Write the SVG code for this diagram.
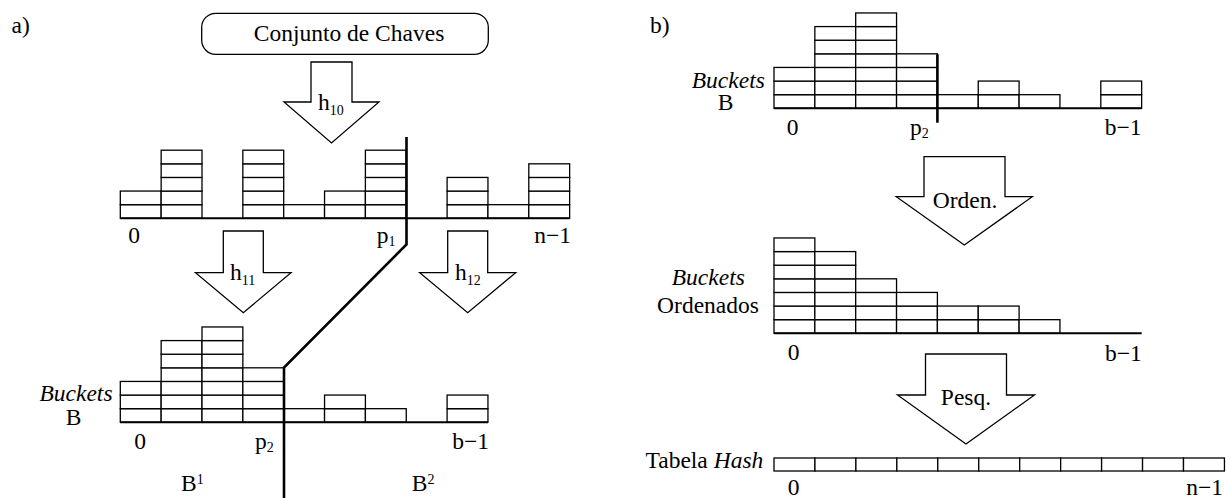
<svg xmlns="http://www.w3.org/2000/svg" width="1226" height="498" viewBox="0 0 1226 498" font-family="'Liberation Serif', 'Times New Roman', serif">
<style>
text{font-family:"Liberation Serif","Times New Roman",serif;font-size:23.5px;fill:#000}
.i{font-style:italic}
.s{font-size:14px}
.m{text-anchor:middle}
.e{text-anchor:end}
.c{fill:#fff;stroke:#000;stroke-width:1.3}
.base{stroke:#000;stroke-width:2;fill:none}
.arr{fill:#fff;stroke:#000;stroke-width:1.3;stroke-linejoin:miter}
.div{stroke:#000;stroke-width:2.6;fill:none;stroke-linejoin:miter}
.box{fill:#fff;stroke:#000;stroke-width:1.3}
</style>
<defs>
<g id="s1"><rect class="c" x="0" y="-13.62" width="40.85" height="13.62"/></g>
<g id="s2"><use href="#s1"/><rect class="c" x="0" y="-27.24" width="40.85" height="13.62"/></g>
<g id="s3"><use href="#s2"/><rect class="c" x="0" y="-40.86" width="40.85" height="13.62"/></g>
<g id="s4"><use href="#s3"/><rect class="c" x="0" y="-54.48" width="40.85" height="13.62"/></g>
<g id="s5"><use href="#s4"/><rect class="c" x="0" y="-68.1" width="40.85" height="13.62"/></g>
<g id="s6"><use href="#s5"/><rect class="c" x="0" y="-81.72" width="40.85" height="13.62"/></g>
<g id="s7"><use href="#s6"/><rect class="c" x="0" y="-95.34" width="40.85" height="13.62"/></g>
</defs>

<text x="11.5" y="33">a)</text>
<text x="650" y="33">b)</text>

<g id="conjunto">
<rect class="box" x="201.7" y="13.3" width="286.6" height="41" rx="14" ry="14"/>
<text class="m" x="349" y="40.7">Conjunto de Chaves</text>
</g>

<g id="bucketsN">
<use href="#s2" x="120.3" y="218.3"/>
<use href="#s5" x="161.15" y="218.3"/>
<use href="#s5" x="242.85" y="218.3"/>
<use href="#s1" x="283.7" y="218.3"/>
<use href="#s2" x="324.55" y="218.3"/>
<use href="#s5" x="365.4" y="218.3"/>
<use href="#s3" x="447.1" y="218.3"/>
<use href="#s1" x="487.95" y="218.3"/>
<use href="#s4" x="528.8" y="218.3"/>
<path class="base" d="M120.3 218.3H569.65"/>
<text x="128.3" y="243">0</text>
<text x="376.7" y="243">p<tspan class="s" dy="3">1</tspan></text>
<text class="e" x="571" y="243">n−1</text>
</g>

<g id="bucketsB-a">
<use href="#s3" x="120.3" y="422.3"/>
<use href="#s6" x="161.15" y="422.3"/>
<use href="#s7" x="202" y="422.3"/>
<use href="#s4" x="242.85" y="422.3"/>
<use href="#s1" x="283.7" y="422.3"/>
<use href="#s2" x="324.55" y="422.3"/>
<use href="#s1" x="365.4" y="422.3"/>
<use href="#s2" x="447.1" y="422.3"/>
<path class="base" d="M120.3 422.3H487.95"/>
<text class="i m" x="76" y="401">Buckets</text>
<text class="m" x="73.5" y="425">B</text>
<text x="134.3" y="449">0</text>
<text x="255" y="449">p<tspan class="s" dy="3">2</tspan></text>
<text class="e" x="489" y="449">b−1</text>
<text x="181" y="491">B<tspan class="s" dy="-7.5">1</tspan></text>
<text x="411.7" y="491">B<tspan class="s" dy="-7.5">2</tspan></text>
</g>

<g id="divider-a">
<path class="div" d="M406.5 137V244.5L284 367.5V498"/>
</g>

<g id="bucketsB-b">
<use href="#s3" x="774" y="108.3"/>
<use href="#s6" x="814.85" y="108.3"/>
<use href="#s7" x="855.7" y="108.3"/>
<use href="#s4" x="896.55" y="108.3"/>
<use href="#s1" x="937.4" y="108.3"/>
<use href="#s2" x="978.25" y="108.3"/>
<use href="#s1" x="1019.1" y="108.3"/>
<use href="#s2" x="1100.8" y="108.3"/>
<path class="base" d="M774 108.3H1141.65"/>
<path class="div" d="M937.4 54.3V122.7"/>
<text class="i m" x="728.3" y="87.5">Buckets</text>
<text class="m" x="725.5" y="110">B</text>
<text x="786.7" y="135">0</text>
<text x="910" y="135">p<tspan class="s" dy="3">2</tspan></text>
<text class="e" x="1141.5" y="135">b−1</text>
</g>

<g id="bucketsOrdenados">
<use href="#s7" x="774" y="333.3"/>
<use href="#s6" x="814.85" y="333.3"/>
<use href="#s4" x="855.7" y="333.3"/>
<use href="#s3" x="896.55" y="333.3"/>
<use href="#s2" x="937.4" y="333.3"/>
<use href="#s2" x="978.25" y="333.3"/>
<use href="#s1" x="1019.1" y="333.3"/>
<path class="base" d="M774 333.3H1141.7"/>
<text class="i m" x="708.3" y="285">Buckets</text>
<text class="m" x="708" y="313.3">Ordenados</text>
<text x="787.7" y="360">0</text>
<text class="e" x="1141.7" y="360.5">b−1</text>
</g>

<g id="tabelaHash">
<rect class="c" x="774" y="458" width="40.95" height="13"/>
<rect class="c" x="814.95" y="458" width="40.95" height="13"/>
<rect class="c" x="855.9" y="458" width="40.95" height="13"/>
<rect class="c" x="896.85" y="458" width="40.95" height="13"/>
<rect class="c" x="937.8" y="458" width="40.95" height="13"/>
<rect class="c" x="978.75" y="458" width="40.95" height="13"/>
<rect class="c" x="1019.7" y="458" width="40.95" height="13"/>
<rect class="c" x="1060.65" y="458" width="40.95" height="13"/>
<rect class="c" x="1101.6" y="458" width="40.95" height="13"/>
<rect class="c" x="1142.55" y="458" width="40.95" height="13"/>
<rect class="c" x="1183.5" y="458" width="40.95" height="13"/>
<text class="e" x="763.3" y="468.3">Tabela <tspan class="i">Hash</tspan></text>
<text x="787.7" y="494.5">0</text>
<text class="e" x="1223" y="494.5">n−1</text>
</g>

<g id="connectors">
<g id="arrow-h10">
<polygon class="arr" points="311,62 352,62 352,102 379,102 331.5,143 284,102 311,102"/>
<text x="318" y="110">h<tspan class="s" dy="5">10</tspan></text>
</g>
<g id="arrow-h11">
<polygon class="arr" points="223.3,231 263.3,231 263.3,272.7 291,272.7 243.3,312.7 195.5,272.7 223.3,272.7"/>
<text x="230" y="280">h<tspan class="s" dy="5">11</tspan></text>
</g>
<g id="arrow-h12">
<polygon class="arr" points="447.7,231 487.7,231 487.7,272.7 515.7,272.7 467.7,312.7 419.7,272.7 447.7,272.7"/>
<text x="455" y="280">h<tspan class="s" dy="5">12</tspan></text>
</g>
<g id="arrow-orden">
<polygon class="arr" points="924,156.7 1005,156.7 1005,196.7 1032.3,196.7 964.3,245 896.3,196.7 924,196.7"/>
<text class="m" x="965" y="208">Orden.</text>
</g>
<g id="arrow-pesq">
<polygon class="arr" points="925.5,354 1006.5,354 1006.5,395 1034.5,395 966,444 897.5,395 925.5,395"/>
<text class="m" x="966" y="405">Pesq.</text>
</g>
</g>
</svg>
